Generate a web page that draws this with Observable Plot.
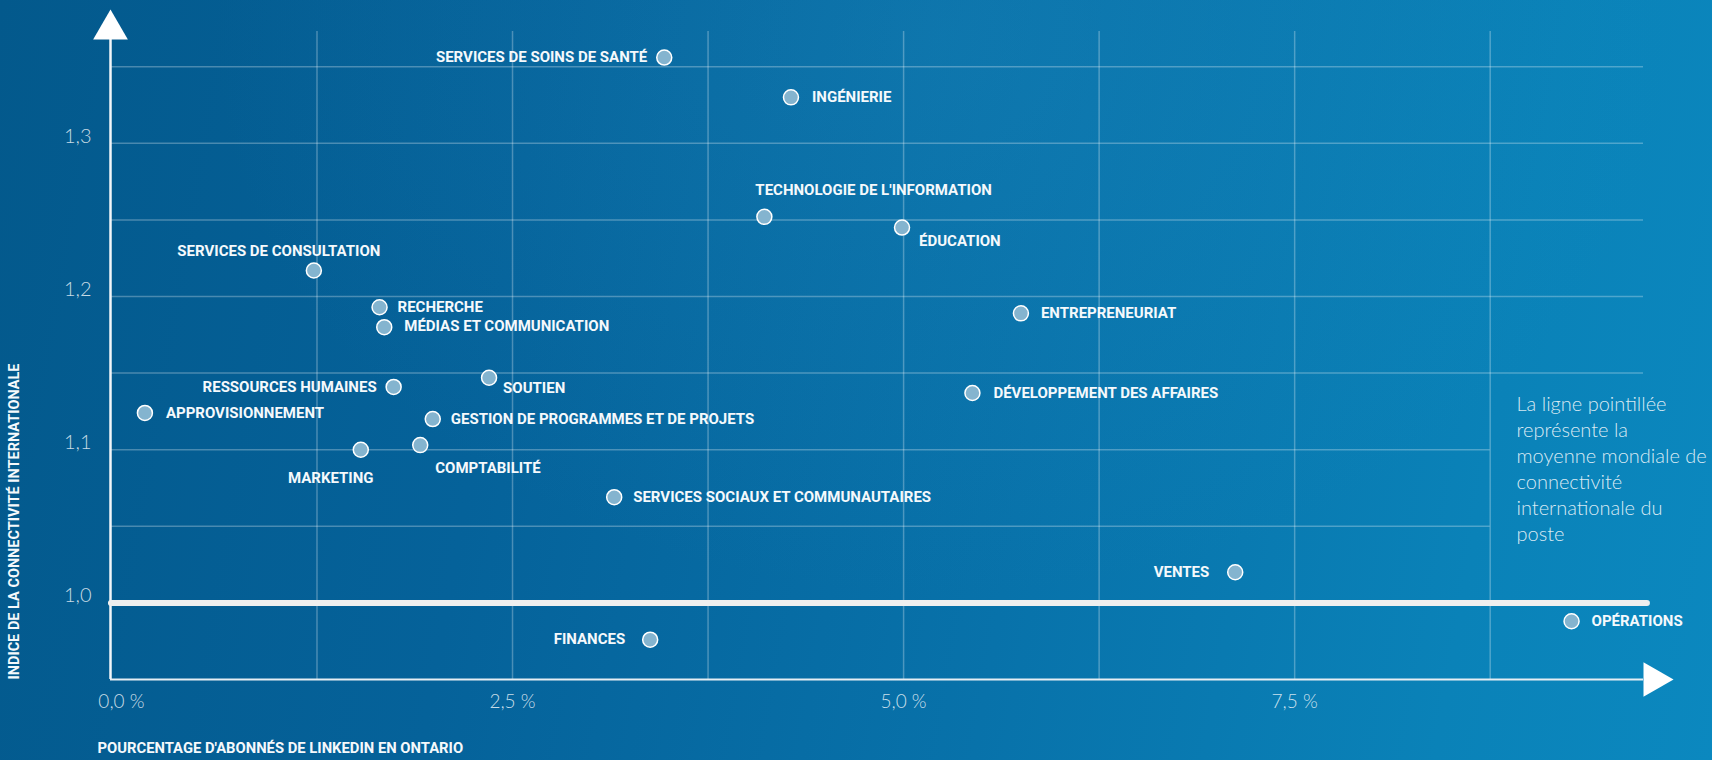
<!DOCTYPE html>
<html lang="fr">
<head>
<meta charset="utf-8">
<script src="https://cdn.jsdelivr.net/npm/d3@7"></script>
<script src="https://cdn.jsdelivr.net/npm/@observablehq/plot@0.6"></script>
<style>
  html, body { margin: 0; padding: 0; }
  body {
    width: 1712px; height: 760px; overflow: hidden;
    background:
      radial-gradient(ellipse at 55% 5%, rgba(40,150,200,0.22) 0%, rgba(40,150,200,0) 55%),
      linear-gradient(100deg, #03598c 0%, #05629a 30%, #0872aa 60%, #0a82b8 85%, #0b88bf 100%);
  }
  #chart svg { display: block; }
</style>
</head>
<body>
<div id="chart"></div>
<script>
// ---------- data ----------
const categories = [
  "SERVICES DE SOINS DE SANTÉ", "INGÉNIERIE", "TECHNOLOGIE DE L'INFORMATION", "ÉDUCATION",
  "SERVICES DE CONSULTATION", "RECHERCHE", "MÉDIAS ET COMMUNICATION", "RESSOURCES HUMAINES",
  "SOUTIEN", "APPROVISIONNEMENT", "GESTION DE PROGRAMMES ET DE PROJETS", "MARKETING",
  "COMPTABILITÉ", "SERVICES SOCIAUX ET COMMUNAUTAIRES", "FINANCES", "VENTES", "OPÉRATIONS",
  "ENTREPRENEURIAT", "DÉVELOPPEMENT DES AFFAIRES"
];
// % of LinkedIn members in Ontario
const pctMembers = [
  3.47, 4.28, 4.11, 4.99,
  1.23, 1.65, 1.68, 1.74,
  2.35, 0.15, 1.99, 1.53,
  1.91, 3.15, 3.38, 7.12, 9.27,
  5.75, 5.44
];
// international connectivity index
const connectivity = [
  1.356, 1.330, 1.252, 1.245,
  1.217, 1.193, 1.180, 1.141,
  1.147, 1.124, 1.120, 1.100,
  1.103, 1.069, 0.976, 1.020, 0.988,
  1.189, 1.137
];
const xTicks = [0, 2.5, 5, 7.5];
const yTicks = [1.0, 1.1, 1.2, 1.3];
const xGrid = [1.25, 2.5, 3.75, 5, 6.25, 7.5, 8.75];
const yGrid = [1.05, 1.10, 1.15, 1.20, 1.25, 1.30, 1.35];
const worldAverage = 1.0;
const xTitle = "POURCENTAGE D'ABONNÉS DE LINKEDIN EN ONTARIO";
const yTitle = "INDICE DE LA CONNECTIVITÉ INTERNATIONALE";
const noteLines = ["La ligne pointillée", "représente la", "moyenne mondiale de", "connectivité", "internationale du", "poste"];

// ---------- layout (label placement relative to its dot) ----------
const labelPlacement = {
  "SERVICES DE SOINS DE SANTÉ": {a: "end", dx: -17, dy: 0},
  "INGÉNIERIE": {a: "start", dx: 21, dy: 0},
  "TECHNOLOGIE DE L'INFORMATION": {a: "start", dx: -9, dy: -27},
  "ÉDUCATION": {a: "start", dx: 17, dy: 14},
  "SERVICES DE CONSULTATION": {a: "middle", dx: -35, dy: -19},
  "RECHERCHE": {a: "start", dx: 18, dy: 0},
  "MÉDIAS ET COMMUNICATION": {a: "start", dx: 20, dy: -1},
  "RESSOURCES HUMAINES": {a: "end", dx: -17, dy: 0},
  "SOUTIEN": {a: "start", dx: 14, dy: 10},
  "APPROVISIONNEMENT": {a: "start", dx: 21, dy: 0},
  "GESTION DE PROGRAMMES ET DE PROJETS": {a: "start", dx: 18, dy: 0},
  "MARKETING": {a: "middle", dx: -30, dy: 28},
  "COMPTABILITÉ": {a: "start", dx: 15, dy: 23},
  "SERVICES SOCIAUX ET COMMUNAUTAIRES": {a: "start", dx: 19, dy: 0},
  "FINANCES": {a: "end", dx: -25, dy: 0},
  "VENTES": {a: "end", dx: -26, dy: 0},
  "OPÉRATIONS": {a: "start", dx: 20, dy: 0},
  "ENTREPRENEURIAT": {a: "start", dx: 20, dy: 0},
  "DÉVELOPPEMENT DES AFFAIRES": {a: "start", dx: 21, dy: 0}
};

const data = categories.map((name, i) => ({name, x: pctMembers[i], y: connectivity[i]}));

const xMin = -0.07, xMax = 9.73, yMin = 0.95, yMax = 1.373;
const boldFont = "Roboto, 'Liberation Sans', sans-serif";
const lightFont = "Lato, 'Open Sans', sans-serif";
const gridColor = "rgba(255,255,255,0.28)";
const frac = d => d.toFixed(1).replace(".", ",");

const labelMarks = data.map(d => {
  const p = labelPlacement[d.name];
  return Plot.text([d], {
    x: "x", y: "y", text: "name",
    textAnchor: p.a, dx: p.dx, dy: p.dy,
    fill: "#f5f9fc", fontSize: 15, fontWeight: 700, fontFamily: boldFont
  });
});

const chart = Plot.plot({
  width: 1712,
  height: 760,
  marginLeft: 110,
  marginRight: 69,
  marginTop: 31,
  marginBottom: 81,
  x: {domain: [xMin, xMax]},
  y: {domain: [yMin, yMax]},
  style: {background: "transparent", overflow: "visible"},
  marks: [
    // grid
    Plot.ruleX(xGrid, {y1: yMin, y2: yMax, stroke: gridColor, strokeWidth: 1.5}),
    Plot.ruleY(yGrid, {x1: xMin, x2: d => d <= 1.1 ? 8.75 : xMax, stroke: gridColor, strokeWidth: 1.5}),
    // axis lines
    Plot.ruleX([xMin], {y1: yMin, y2: yMax, stroke: "#f2f6f9", strokeWidth: 2.5}),
    Plot.ruleY([yMin], {x1: xMin, x2: xMax, stroke: "#e6eef4", strokeWidth: 2}),
    // arrows
    Plot.dot([0], {x: () => xMin, y: () => yMax, symbol: "triangle", r: 12.9, fill: "white", dy: -2}),
    Plot.dot([0], {x: () => xMax, y: () => yMin, symbol: "triangle", r: 12.9, fill: "white", rotate: 90, dx: 10}),
    // world average line
    Plot.ruleY([worldAverage], {x1: -0.064, x2: 9.755, stroke: "#efefef", strokeWidth: 6, strokeLinecap: "round"}),
    // axes
    Plot.axisX({ticks: xTicks, tickSize: 0, tickPadding: 15, tickFormat: d => frac(d) + " %",
      fontSize: 19, fontWeight: 300, fontFamily: lightFont, fill: "rgba(255,255,255,0.78)", label: null}),
    Plot.axisY({ticks: yTicks, tickSize: 0, tickPadding: 19, tickFormat: frac, dy: -7,
      fontSize: 20, fontWeight: 300, fontFamily: lightFont, fill: "rgba(255,255,255,0.78)", label: null}),
    // dots
    Plot.dot(data, {x: "x", y: "y", r: 7.5, fill: "#84b4cf", stroke: "white", strokeWidth: 1.5}),
    ...labelMarks,
    // axis titles
    Plot.text([yTitle], {text: d => d, frameAnchor: "bottom-left", textAnchor: "start", rotate: -90,
      dx: -92, fill: "#f5f9fc", fontSize: 14.5, fontWeight: 700, fontFamily: boldFont}),
    Plot.text([xTitle], {text: d => d, frameAnchor: "bottom-left", textAnchor: "start",
      dx: -13, dy: 73, fill: "#f5f9fc", fontSize: 14.8, fontWeight: 700, fontFamily: boldFont}),
    // note
    Plot.text([noteLines.join("\n")], {text: d => d, frameAnchor: "right", textAnchor: "start",
      dx: -127, dy: 112, lineHeight: 1.3, fill: "rgba(255,255,255,0.85)", fontSize: 20, fontWeight: 300, fontFamily: lightFont})
  ]
});
document.getElementById("chart").appendChild(chart);
</script>
</body>
</html>
